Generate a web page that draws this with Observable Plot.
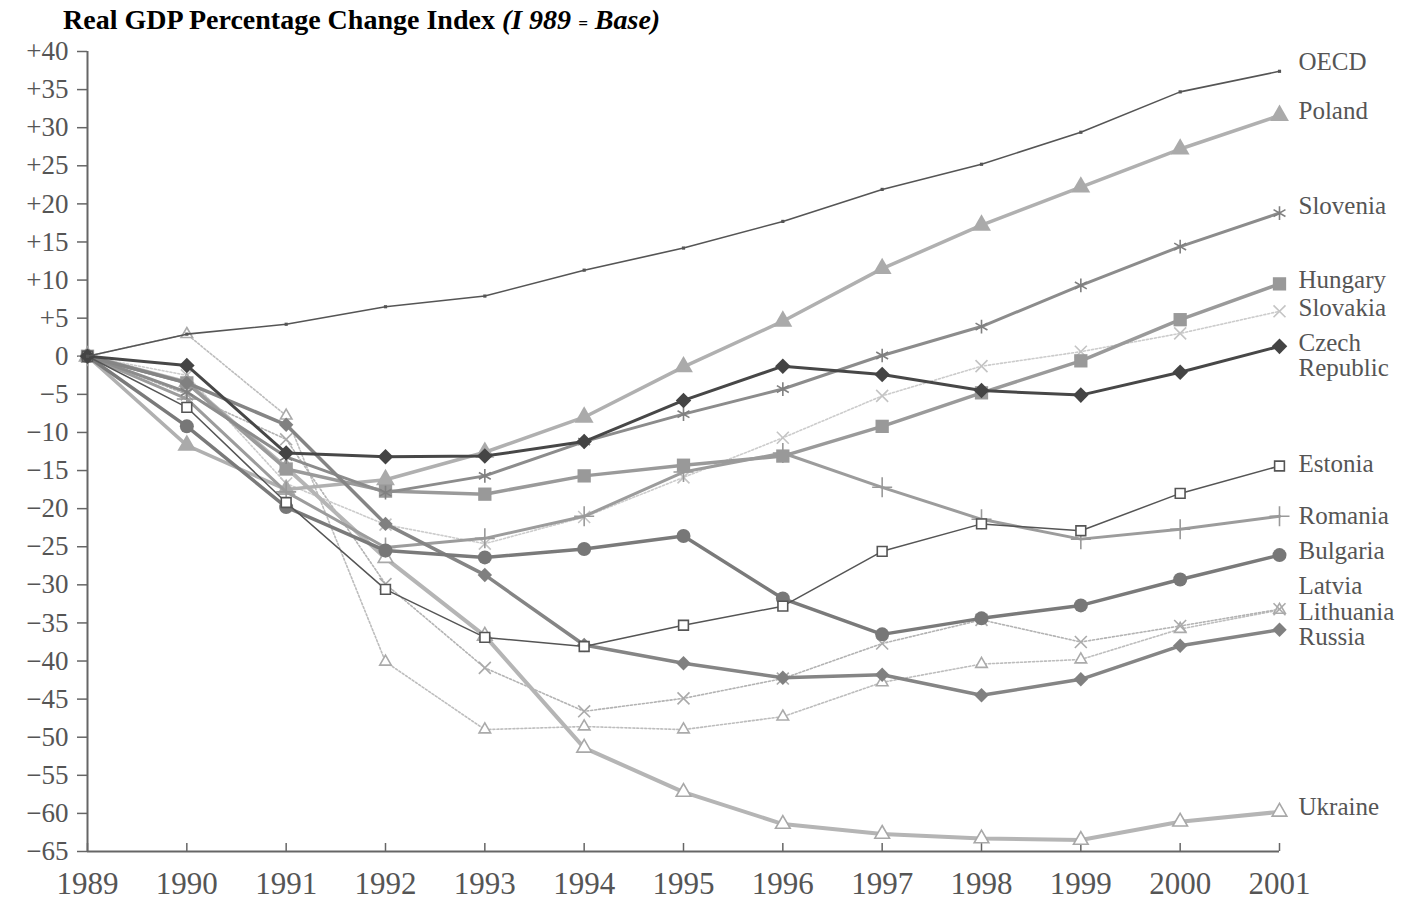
<!DOCTYPE html>
<html><head><meta charset="utf-8">
<script src="https://cdn.jsdelivr.net/npm/d3@7"></script>
<script src="https://cdn.jsdelivr.net/npm/@observablehq/plot@0.6"></script>
<style>
body{margin:0;background:#fff;}
#title{height:36px;padding-left:63px;font-family:"Liberation Serif",serif;font-weight:bold;font-size:28px;line-height:40px;color:#000;white-space:nowrap;box-sizing:border-box}
#title .eq{font-size:17px;}
</style></head><body>
<div id="title">Real GDP Percentage Change Index <i>(I 989 <span class="eq">=</span> Base)</i></div>
<div id="chart"></div>
<script>
const years = [1989,1990,1991,1992,1993,1994,1995,1996,1997,1998,1999,2000,2001];
const oecd      = [0, 2.9, 4.2, 6.5, 7.9, 11.3, 14.2, 17.7, 21.9, 25.2, 29.4, 34.7, 37.4];
const poland    = [0, -11.7, -17.5, -16.2, -12.6, -8.0, -1.4, 4.6, 11.5, 17.2, 22.2, 27.2, 31.6];
const slovenia  = [0, -4.7, -13.2, -17.9, -15.7, -11.2, -7.6, -4.3, 0.1, 3.9, 9.3, 14.4, 18.8];
const hungary   = [0, -3.5, -14.8, -17.7, -18.1, -15.7, -14.3, -13.1, -9.2, -4.8, -0.6, 4.8, 9.5];
const slovakia  = [0, -2.5, -16.7, -22.1, -24.6, -21.1, -15.9, -10.7, -5.2, -1.3, 0.6, 3.0, 5.9];
const czech     = [0, -1.2, -12.7, -13.2, -13.1, -11.2, -5.8, -1.3, -2.4, -4.5, -5.1, -2.1, 1.3];
const estonia   = [0, -6.7, -19.2, -30.6, -36.9, -38.1, -35.3, -32.8, -25.6, -22.0, -22.9, -18.0, -14.4];
const romania   = [0, -5.6, -17.8, -25.1, -23.9, -21.0, -15.2, -12.7, -17.2, -21.4, -24.0, -22.7, -21.0];
const bulgaria  = [0, -9.2, -19.8, -25.5, -26.4, -25.3, -23.6, -31.8, -36.5, -34.4, -32.7, -29.3, -26.1];
const latvia    = [0, 2.9, -7.8, -40.1, -49.0, -48.6, -49.0, -47.3, -42.8, -40.4, -39.8, -35.8, -33.3];
const lithuania = [0, -5.0, -10.9, -29.9, -40.9, -46.6, -44.9, -42.3, -37.7, -34.6, -37.5, -35.4, -33.2];
const russia    = [0, -3.5, -9.0, -22.0, -28.7, -37.9, -40.3, -42.2, -41.8, -44.5, -42.4, -38.0, -35.9];
const ukraine   = [0, -3.4, -14.6, -26.5, -36.7, -51.4, -57.2, -61.4, -62.7, -63.3, -63.5, -61.1, -59.8];

const yTicks = [40,35,30,25,20,15,10,5,0,-5,-10,-15,-20,-25,-30,-35,-40,-45,-50,-55,-60,-65];
const labelNames  = ["OECD","Poland","Slovenia","Hungary","Slovakia","Czech","Republic","Estonia","Romania","Bulgaria","Latvia","Lithuania","Russia","Ukraine"];
const labelValues = [38.6, 32.2, 19.7, 10.0, 6.3, 1.8, -1.6, -14.2, -21.0, -25.5, -30.2, -33.5, -36.9, -59.2];

const seriesValues = {
  "Latvia": latvia, "Lithuania": lithuania, "Slovakia": slovakia, "Ukraine": ukraine,
  "Poland": poland, "Romania": romania, "Hungary": hungary, "Slovenia": slovenia,
  "Russia": russia, "Bulgaria": bulgaria, "Estonia": estonia, "Czech Republic": czech, "OECD": oecd
};

const styles = {
  "Latvia":   {stroke:"#bdbdbd", sw:1.6, dash:"2,2", symbol:"triangle2", r:5.5, fill:"white", mstroke:"#aaa"},
  "Lithuania":{stroke:"#b3b3b3", sw:1.6, dash:"2,2", symbol:"times", r:5.5, fill:"none", mstroke:"#aaa"},
  "Slovakia": {stroke:"#cccccc", sw:1.6, dash:"2,2", symbol:"times", r:5.5, fill:"none", mstroke:"#c4c4c4"},
  "Ukraine":  {stroke:"#b5b5b5", sw:4, symbol:"triangle2", r:7, fill:"white", mstroke:"#a8a8a8"},
  "Poland":   {stroke:"#b0b0b0", sw:3.5, symbol:"triangle", r:7, fill:"#aaa", mstroke:"none"},
  "Romania":  {stroke:"#9c9c9c", sw:3, symbol:"plus", r:6.5, fill:"none", mstroke:"#999"},
  "Hungary":  {stroke:"#9a9a9a", sw:3.5, symbol:"square", r:7.5, fill:"#999", mstroke:"none"},
  "Slovenia": {stroke:"#8c8c8c", sw:3, symbol:"asterisk", r:6.5, fill:"none", mstroke:"#808080"},
  "Russia":   {stroke:"#858585", sw:3.5, symbol:"diamond2", r:6.5, fill:"#808080", mstroke:"none"},
  "Bulgaria": {stroke:"#7a7a7a", sw:3.5, symbol:"circle", r:7, fill:"#777", mstroke:"none"},
  "Estonia":  {stroke:"#555555", sw:1.5, symbol:"square", r:5.5, fill:"white", mstroke:"#555"},
  "Czech Republic": {stroke:"#474747", sw:3, symbol:"diamond2", r:7, fill:"#444", mstroke:"none"},
  "OECD":     {stroke:"#555555", sw:1.6, symbol:"square", r:1.8, fill:"#555", mstroke:"none"}
};

const rows = [];
for (const [country, vals] of Object.entries(seriesValues)) {
  years.forEach((year, i) => rows.push({country, year, value: vals[i]}));
}

const seriesMarks = [];
for (const country of Object.keys(seriesValues)) {
  const s = styles[country];
  const d = rows.filter(r => r.country === country);
  seriesMarks.push(Plot.line(d, {x: "year", y: "value", stroke: s.stroke, strokeWidth: s.sw, strokeDasharray: s.dash, strokeLinejoin: "round"}));
  seriesMarks.push(Plot.dot(d, {x: "year", y: "value", symbol: s.symbol, r: s.r, fill: s.fill, stroke: s.mstroke, strokeWidth: 1.6}));
}

const fmt = v => v > 0 ? "+" + v : v < 0 ? "\u2212" + (-v) : "0";

const chart = Plot.plot({
  width: 1416,
  height: 866,
  marginLeft: 87,
  marginRight: 137,
  marginTop: 15,
  marginBottom: 51,
  x: {domain: [d3.min(years), d3.max(years)]},
  y: {domain: [d3.min(yTicks), d3.max(yTicks)]},
  style: {fontFamily: "Liberation Serif, serif", color: "#555", background: "white", overflow: "visible"},
  marks: [
    Plot.axisY({ticks: yTicks, tickFormat: fmt, label: null, tickSize: 10, tickPadding: 9, fontSize: 27, stroke: "#666", strokeWidth: 1.5, fill: "#555"}),
    Plot.axisX({ticks: years, tickFormat: d => String(d), label: null, tickSize: -8, tickPadding: 28, fontSize: 31, stroke: "#666", strokeWidth: 1.5, fill: "#555"}),
    Plot.ruleX([d3.min(years)], {stroke: "#666", strokeWidth: 2}),
    Plot.ruleY([d3.min(yTicks)], {stroke: "#666", strokeWidth: 2}),
    ...seriesMarks,
    Plot.text(labelNames, {x: () => d3.max(years), y: (d, i) => labelValues[i], text: d => d, dx: 19, textAnchor: "start", fontSize: 25, fill: "#555"})
  ]
});
document.getElementById("chart").appendChild(chart);
</script>
</body></html>
